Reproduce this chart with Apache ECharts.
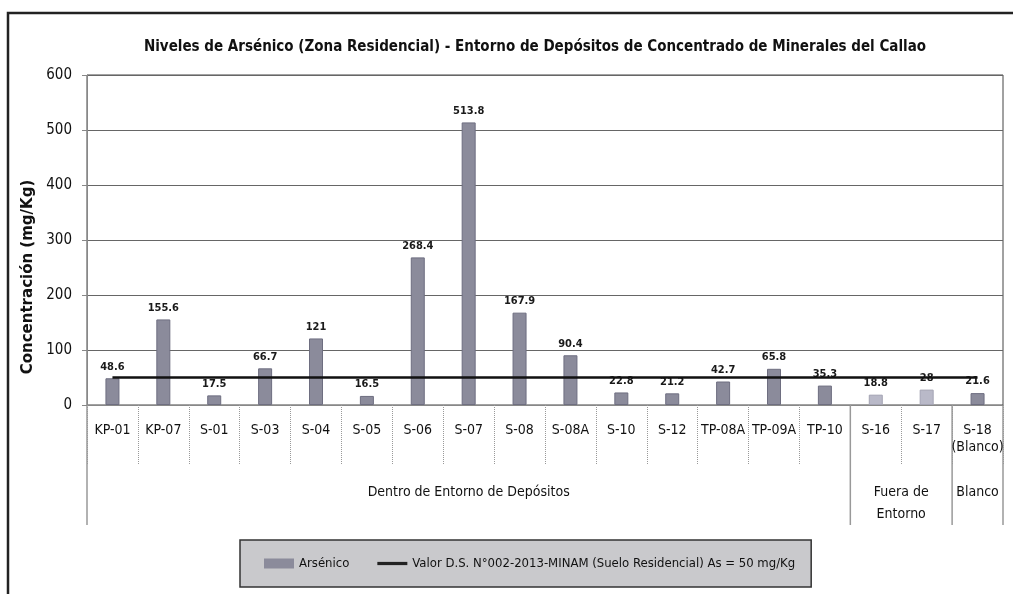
<!DOCTYPE html>
<html>
<head>
<meta charset="utf-8">
<script src="https://cdn.jsdelivr.net/npm/echarts@6/dist/echarts.min.js"></script>
<style>
    html, body { margin: 0; padding: 0; background: #fff; }
    #chart { width: 1013px; height: 594px; }
</style>
</head>
<body>
<div id="chart"></div>
<script>
    const categories = ['KP-01', 'KP-07', 'S-01', 'S-03', 'S-04', 'S-05', 'S-06', 'S-07', 'S-08', 'S-08A',
        'S-10', 'S-12', 'TP-08A', 'TP-09A', 'TP-10', 'S-16', 'S-17', 'S-18\n(Blanco)'];
    const arsenico = [48.6, 155.6, 17.5, 66.7, 121, 16.5, 268.4, 513.8, 167.9, 90.4,
        22.8, 21.2, 42.7, 65.8, 35.3, 18.8, 28, 21.6];
    const limite = [50, 50, 50, 50, 50, 50, 50, 50, 50, 50, 50, 50, 50, 50, 50, 50, 50, 50];
    const lightBars = ['S-16', 'S-17'];
    const groupNames = ['Dentro de Entorno de Depósitos', 'Fuera de\nEntorno', 'Blanco'];
    const groupSizes = [15, 2, 1];
    const yMin = 0, yMax = 600, yStep = 100;

    const FONT = '"Liberation Sans Narrow", "DejaVu Sans Condensed", sans-serif';
    const barName = 'Arsénico';
    const lineName = 'Valor D.S. N°002-2013-MINAM (Suelo Residencial) As = 50 mg/Kg';

    const chart = echarts.init(document.getElementById('chart'));

    const barData = arsenico.map((v, i) => {
        const light = lightBars.indexOf(categories[i]) >= 0;
        return {
            value: v,
            itemStyle: {
                color: light ? '#b9b9c8' : '#8b8b9b',
                borderColor: light ? '#a3a3b3' : '#6e6e80',
                borderWidth: 1
            }
        };
    });

    chart.setOption({
        animation: false,
        title: {
            text: 'Niveles de Arsénico (Zona Residencial) - Entorno de Depósitos de Concentrado de Minerales del Callao',
            left: 530,
            textAlign: 'center',
            top: 35,
            textStyle: { fontFamily: FONT, fontSize: 15, fontWeight: 'bold', color: '#111' }
        },
        grid: {
            left: 87, right: 10, top: 75, bottom: 189,
            show: true, borderColor: '#444', borderWidth: 1
        },
        legend: {
            left: 240, top: 540,
            data: [
                { name: barName, icon: 'rect' },
                { name: lineName, icon: 'path://M0 0H28V3H0Z' }
            ],
            backgroundColor: '#c9c9cc',
            borderColor: '#333', borderWidth: 1.5,
            borderRadius: 0,
            padding: [17, 16, 17, 24],
            itemGap: 28,
            itemWidth: 30, itemHeight: 10,
            textStyle: { fontFamily: FONT, fontSize: 13, color: '#111' }
        },
        xAxis: {
            type: 'category',
            data: categories,
            axisLine: { lineStyle: { color: '#888', width: 1 } },
            axisTick: { show: true, length: 60, lineStyle: { color: '#999', type: 'dotted' } },
            axisLabel: { margin: 17, fontFamily: FONT, fontSize: 14, color: '#111', lineHeight: 17, interval: 0 }
        },
        yAxis: {
            type: 'value',
            min: yMin, max: yMax, interval: yStep,
            name: 'Concentración (mg/Kg)',
            nameLocation: 'middle',
            nameRotate: 90,
            nameGap: 43,
            nameTextStyle: { fontFamily: 'DejaVu Sans', fontSize: 15, fontWeight: 'bold', color: '#111', padding: [0, 74, 0, 0] },
            axisLine: { show: true, lineStyle: { color: '#888' } },
            axisTick: { show: true, length: 5, lineStyle: { color: '#888' } },
            axisLabel: { margin: 15, fontFamily: FONT, fontSize: 15, color: '#111' },
            splitLine: { lineStyle: { color: '#666', width: 1 } }
        },
        series: [
            {
                name: barName,
                type: 'bar',
                barWidth: 14,
                data: barData,
                itemStyle: { color: '#8b8b9b' },
                label: {
                    show: true, position: 'top', distance: 6,
                    fontFamily: FONT, fontSize: 11, fontWeight: 'bold', color: '#1a1a1a'
                },
                z: 2
            },
            {
                name: lineName,
                type: 'line',
                data: limite,
                symbol: 'none',
                lineStyle: { color: '#111', width: 2.5 },
                itemStyle: { color: '#222' },
                z: 3
            }
        ]
    });

    // group separators and group labels under the category axis
    const c0 = chart.convertToPixel({ xAxisIndex: 0 }, 0);
    const c1 = chart.convertToPixel({ xAxisIndex: 0 }, 1);
    const band = c1 - c0;
    const y0 = chart.convertToPixel({ yAxisIndex: 0 }, 0);
    const edge = i => c0 - band / 2 + i * band;

    const graphics = [{
        type: 'rect', silent: true, z: -1,
        shape: { x: 8, y: 13, width: 1020, height: 600 },
        style: { fill: 'none', stroke: '#222', lineWidth: 2.5 }
    }];
    let start = 0;
    graphics.push({
        type: 'line', silent: true,
        shape: { x1: edge(0), y1: y0, x2: edge(0), y2: y0 + 120 },
        style: { stroke: '#999', lineWidth: 1.5 }
    });
    groupSizes.forEach((n, g) => {
        const end = start + n;
        graphics.push({
            type: 'line', silent: true,
            shape: { x1: edge(end), y1: y0, x2: edge(end), y2: y0 + 120 },
            style: { stroke: '#999', lineWidth: 1.5 }
        });
        graphics.push({
            type: 'text', silent: true,
            x: (edge(start) + edge(end)) / 2, y: y0 + 76,
            style: {
                text: groupNames[g], textAlign: 'center', textVerticalAlign: 'top',
                fontFamily: FONT, fontSize: 14, lineHeight: 22, fill: '#111'
            }
        });
        start = end;
    });
    chart.setOption({ graphic: graphics });
</script>
</body>
</html>
